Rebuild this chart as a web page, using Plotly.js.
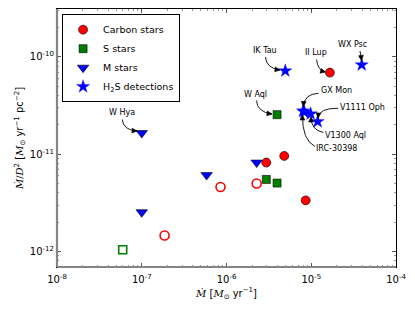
<!DOCTYPE html>
<html><head><meta charset="utf-8">
<script src="https://cdn.plot.ly/plotly-3.0.1.min.js"></script>
<style>html,body{margin:0;padding:0;background:#fff}#c{width:415px;height:312px}</style>
</head><body><div id="c"></div>
<script>
// ---- data ----
const carbonX = [1.66e-5, 4.8e-6, 2.95e-6, 8.6e-6];
const carbonY = [6.9e-11, 9.6e-12, 8.2e-12, 3.35e-12];
const carbonOpenX = [8.5e-7, 2.27e-6, 1.86e-7];
const carbonOpenY = [4.6e-12, 5.0e-12, 1.46e-12];
const sStarX = [3.95e-6, 2.95e-6, 3.95e-6];
const sStarY = [2.55e-11, 5.5e-12, 5.05e-12];
const sStarOpenX = [5.96e-8];
const sStarOpenY = [1.04e-12];
const mStarX = [1.0e-7, 1.0e-7, 5.83e-7, 2.27e-6];
const mStarY = [1.65e-11, 2.53e-12, 6.1e-12, 8.2e-12];
const h2sNames = ["IK Tau", "WX Psc", "GX Mon", "IRC-30398", "V1300 Aql", "V1111 Oph"];
const h2sX = [4.94e-6, 3.94e-5, 8.0e-6, 8.3e-6, 9.84e-6, 1.19e-5];
const h2sY = [7.2e-11, 8.3e-11, 2.78e-11, 2.71e-11, 2.60e-11, 2.16e-11];
const seriesNames = ["Carbon stars", "S stars", "M stars", "H<sub>2</sub>S detections"];
const xTickVals = [1e-8, 1e-7, 1e-6, 1e-5, 1e-4];
const xTickText = ["10<sup>-8</sup>", "10<sup>-7</sup>", "10<sup>-6</sup>", "10<sup>-5</sup>", "10<sup>-4</sup>"];
const yTickVals = [1e-12, 1e-11, 1e-10];
const yTickText = ["10<sup>-12</sup>", "10<sup>-11</sup>", "10<sup>-10</sup>"];
const labelNames = ["W Hya", "IK Tau", "II Lup", "WX Psc", "W Aql", "GX Mon", "V1111 Oph", "V1300 Aql", "IRC-30398"];

// ---- label/arrow geometry (pixels in the 415x312 frame) ----
const labelGeom = [
  {t:[121.7,112.7], s:[122.3,119.5], c:[123,130], e:[137,131]},
  {t:[265,50.7],   s:[265.5,57],    c:[266,68],  e:[280,70]},
  {t:[316.3,52.7], s:[316.7,59.5],  c:[317,70],  e:[325.5,72]},
  {t:[352,44.3],   s:[360,51],      c:[361,56],  e:[361.5,60.5]},
  {t:[256,94],     s:[256.5,100.5], c:[257,112], e:[272,114]},
  {t:[336,90.3],   s:[318.5,93.3],  c:[304,94],  e:[303.5,106.5]},
  {t:[362.7,107.3],s:[338,108.3],   c:[319,108], e:[318,118]},
  {t:[345.3,135.3],s:[323.3,132.5], c:[311,130], e:[311,117]},
  {t:[336.7,148],  s:[315,146.5],   c:[302,140], e:[302.5,115]}
];
const PL = 57, PR = 396, PT = 9, PB = 267;
const P = (p) => [(p[0]-PL)/(PR-PL), (PB-p[1])/(PB-PT)];

const FONT = "DejaVu Sans";
const shapes = [];
const annotations = [];
labelGeom.forEach((g, i) => {
  const s = P(g.s), c = P(g.c), e = P(g.e);
  shapes.push({type:'path', xref:'paper', yref:'paper',
    path:`M ${s[0]} ${s[1]} Q ${c[0]} ${c[1]} ${e[0]} ${e[1]}`,
    line:{color:'black', width:0.9}, fillcolor:'rgba(0,0,0,0)'});
  // arrowhead in pixel space
  let dx = g.e[0]-g.c[0], dy = g.e[1]-g.c[1];
  const L = Math.hypot(dx, dy); dx/=L; dy/=L;
  const hl = 5, hw = 2.4;
  const b = [g.e[0]-dx*hl, g.e[1]-dy*hl];
  const l = P([b[0]-dy*hw, b[1]+dx*hw]), r = P([b[0]+dy*hw, b[1]-dx*hw]);
  shapes.push({type:'path', xref:'paper', yref:'paper',
    path:`M ${l[0]} ${l[1]} L ${e[0]} ${e[1]} L ${r[0]} ${r[1]} Z`,
    line:{color:'black', width:0.6}, fillcolor:'black'});
  const t = P(g.t);
  annotations.push({xref:'paper', yref:'paper', x:t[0], y:t[1], text:labelNames[i],
    showarrow:false, xanchor:'center', yanchor:'middle',
    font:{family:FONT, size:8, color:'black'}});
});
// spines: gray left/bottom
shapes.push({type:'line', xref:'paper', yref:'paper', x0:0, x1:0, y0:0, y1:1, line:{color:'#858585', width:2.2}, layer:'above'});
shapes.push({type:'line', xref:'paper', yref:'paper', x0:0, x1:1, y0:0, y1:0, line:{color:'#858585', width:2.2}, layer:'above'});

const edge = {color:'black', width:0.6};
const traces = [
  {x:carbonX, y:carbonY, name:seriesNames[0], mode:'markers', type:'scatter',
   marker:{symbol:'circle', size:9, color:'#ff0000', line:edge}},
  {x:carbonOpenX, y:carbonOpenY, mode:'markers', type:'scatter', showlegend:false,
   marker:{symbol:'circle-open', size:9, color:'#ff0000', line:{color:'#ff0000', width:1.6}}},
  {x:sStarX, y:sStarY, name:seriesNames[1], mode:'markers', type:'scatter',
   marker:{symbol:'square', size:8, color:'#007f00', line:edge}},
  {x:sStarOpenX, y:sStarOpenY, mode:'markers', type:'scatter', showlegend:false,
   marker:{symbol:'square-open', size:8, color:'#007f00', line:{color:'#007f00', width:1.6}}},
  {x:mStarX, y:mStarY, name:seriesNames[2], mode:'markers', type:'scatter',
   marker:{symbol:'triangle-down', size:10, color:'#0000ff', line:edge}},
  {x:h2sX, y:h2sY, name:seriesNames[3], text:h2sNames, mode:'markers', type:'scatter',
   marker:{symbol:'star', size:10, color:'#0000ff', line:{color:'#0000ff', width:0.3}}}
];

const axisCommon = {
  type:'log', showgrid:false, zeroline:false, showline:true, linecolor:'black', linewidth:1,
  mirror:'allticks', ticks:'inside', ticklen:4, tickwidth:0.8, tickcolor:'#333',
  tickfont:{family:FONT, size:10, color:'black'},
  minor:{ticks:'inside', ticklen:2, tickwidth:0.6, tickcolor:'#555', dtick:'D1', showgrid:false}
};
const layout = {
  width:415, height:312, paper_bgcolor:'white', plot_bgcolor:'white',
  margin:{l:PL, r:415-PR, t:PT, b:312-PB},
  showlegend:true,
  legend:{x:0.015, y:0.98, xanchor:'left', yanchor:'top', bordercolor:'black', borderwidth:1,
    bgcolor:'white', font:{family:FONT, size:9.5, color:'black'}, itemwidth:30, tracegroupgap:0},
  xaxis:Object.assign({}, axisCommon, {range:[-8, -4], tickvals:xTickVals, ticktext:xTickText,
    ticklabelstandoff:3,
    title:{text:'<span style="font-family:DejaVu Serif"><i>Ṁ</i></span> [<span style="font-family:DejaVu Serif"><i>M</i></span><sub>⊙</sub> yr<sup>−1</sup>]',
      font:{family:FONT, size:10, color:'black'}, standoff:5}}),
  yaxis:Object.assign({}, axisCommon, {range:[-12.16, -9.507], tickvals:yTickVals, ticktext:yTickText,
    title:{text:'<span style="font-family:DejaVu Serif"><i>Ṁ</i>/<i>D</i></span><sup>2</sup> [<span style="font-family:DejaVu Serif"><i>M</i></span><sub>⊙</sub> yr<sup>−1</sup> pc<sup>−2</sup>]',
      font:{family:FONT, size:10, color:'black'}, standoff:4}}),
  shapes:shapes, annotations:annotations
};
Plotly.newPlot('c', traces, layout, {staticPlot:true, displayModeBar:false});
</script></body></html>
